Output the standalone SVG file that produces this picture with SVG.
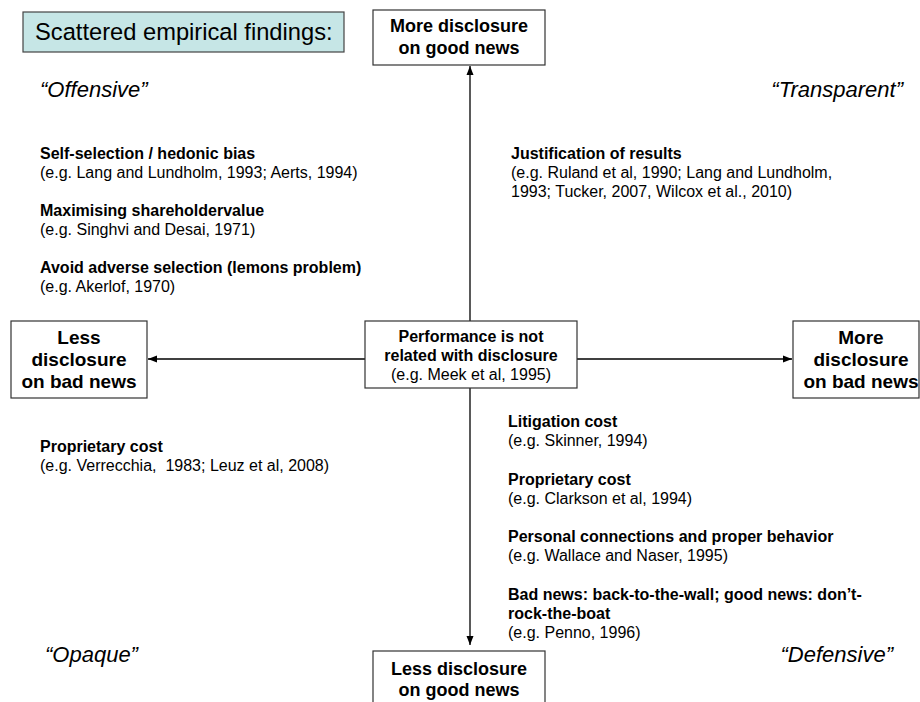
<svg xmlns="http://www.w3.org/2000/svg" width="920" height="702" viewBox="0 0 920 702">
<style>
text{font-family:"Liberation Sans",Arial,sans-serif;fill:#000}
.box{fill:#fff;stroke:#333;stroke-width:1.2}
.hdr{fill:#c6e6e6;stroke:#444;stroke-width:1.2}
.lbl{font-weight:bold;text-anchor:middle}
.t{font-size:16px}
.b{font-weight:bold}
.q{font-style:italic;font-size:22px}
.conn{stroke:#000;stroke-width:1.3;fill:none}
</style>
<defs>
<marker id="ah" markerUnits="userSpaceOnUse" markerWidth="10" markerHeight="8" refX="9" refY="4" orient="auto">
<path d="M0,0.5 L9,4 L0,7.5 z" fill="#000"/>
</marker>
</defs>
<rect width="920" height="702" fill="#fff"/>

<g id="connectors">
<line class="conn" x1="470" y1="321" x2="470" y2="66" marker-end="url(#ah)"/>
<line class="conn" x1="365" y1="359" x2="148" y2="359" marker-end="url(#ah)"/>
<line class="conn" x1="577" y1="359" x2="792" y2="359" marker-end="url(#ah)"/>
<line class="conn" x1="470" y1="388" x2="470" y2="645" marker-end="url(#ah)"/>
</g>

<g id="title">
<rect class="hdr" x="23" y="12" width="321" height="40"/>
<text x="35" y="40" font-size="23.7">Scattered empirical findings:</text>
</g>

<g id="node-top">
<rect class="box" x="373" y="10" width="172" height="55"/>
<text class="lbl" x="459" y="32" font-size="18">More disclosure</text>
<text class="lbl" x="459" y="54" font-size="18">on good news</text>
</g>

<g id="node-left">
<rect class="box" x="11" y="321" width="136" height="77"/>
<text class="lbl" x="79" y="344" font-size="19">Less</text>
<text class="lbl" x="79" y="366" font-size="19">disclosure</text>
<text class="lbl" x="79" y="388" font-size="19">on bad news</text>
</g>

<g id="node-center">
<rect class="box" x="365" y="321" width="212" height="67"/>
<text class="lbl" x="471" y="342" font-size="16">Performance is not</text>
<text class="lbl" x="471" y="361" font-size="16">related with disclosure</text>
<text x="471" y="380" font-size="16" text-anchor="middle">(e.g. Meek et al, 1995)</text>
</g>

<g id="node-right">
<rect class="box" x="793" y="321" width="126" height="77"/>
<text class="lbl" x="861" y="344" font-size="19">More</text>
<text class="lbl" x="861" y="366" font-size="19">disclosure</text>
<text class="lbl" x="861" y="388" font-size="19">on bad news</text>
</g>

<g id="node-bottom">
<rect class="box" x="373" y="651" width="172" height="60"/>
<text class="lbl" x="459" y="675" font-size="18">Less disclosure</text>
<text class="lbl" x="459" y="696" font-size="18">on good news</text>
</g>

<g id="quadrants">
<text class="q" x="40" y="97">“Offensive”</text>
<text class="q" x="903" y="97" text-anchor="end">“Transparent”</text>
<text class="q" x="45" y="662">“Opaque”</text>
<text class="q" x="893" y="662" text-anchor="end">“Defensive”</text>
</g>

<g id="offensive-findings" class="t">
<text class="b" x="40" y="159">Self-selection / hedonic bias</text>
<text x="40" y="178">(e.g. Lang and Lundholm, 1993; Aerts, 1994)</text>
<text class="b" x="40" y="216">Maximising shareholdervalue</text>
<text x="40" y="235">(e.g. Singhvi and Desai, 1971)</text>
<text class="b" x="40" y="273">Avoid adverse selection (lemons problem)</text>
<text x="40" y="292">(e.g. Akerlof, 1970)</text>
</g>

<g id="transparent-findings" class="t">
<text class="b" x="511" y="159">Justification of results</text>
<text x="511" y="178">(e.g. Ruland et al, 1990; Lang and Lundholm,</text>
<text x="511" y="197">1993; Tucker, 2007, Wilcox et al., 2010)</text>
</g>

<g id="opaque-findings" class="t">
<text class="b" x="40" y="452">Proprietary cost</text>
<text x="40" y="471" style="white-space:pre">(e.g. Verrecchia,  1983; Leuz et al, 2008)</text>
</g>

<g id="defensive-findings" class="t">
<text class="b" x="508" y="427">Litigation cost</text>
<text x="508" y="446">(e.g. Skinner, 1994)</text>
<text class="b" x="508" y="485">Proprietary cost</text>
<text x="508" y="504">(e.g. Clarkson et al, 1994)</text>
<text class="b" x="508" y="542">Personal connections and proper behavior</text>
<text x="508" y="561">(e.g. Wallace and Naser, 1995)</text>
<text class="b" x="508" y="600">Bad news: back-to-the-wall; good news: don’t-</text>
<text class="b" x="508" y="619">rock-the-boat</text>
<text x="508" y="638">(e.g. Penno, 1996)</text>
</g>
</svg>
